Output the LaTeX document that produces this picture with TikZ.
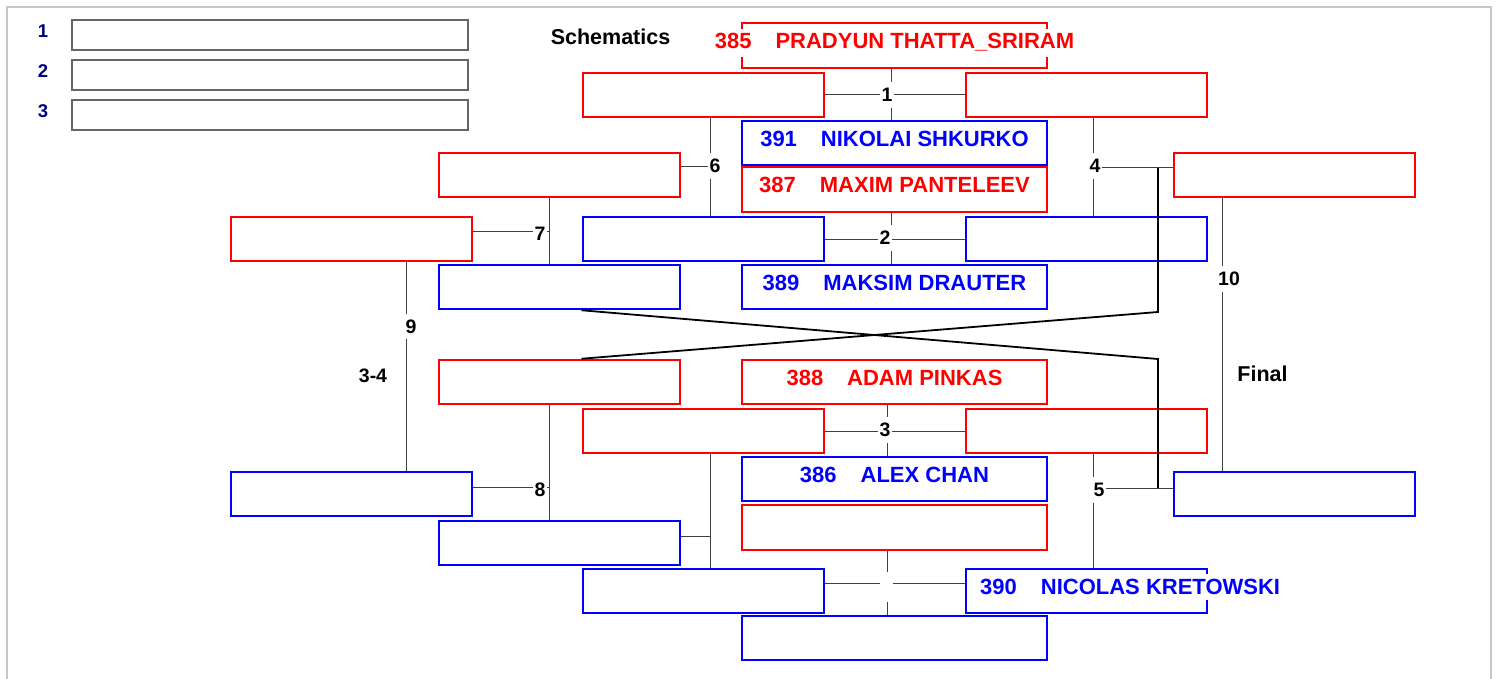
\documentclass[tikz,border=0pt]{standalone}
\usepackage{fontspec}
\setmainfont{Liberation Sans}
\usetikzlibrary{positioning}
\definecolor{boxred}{RGB}{255,0,0}
\definecolor{boxblue}{RGB}{0,0,255}
\definecolor{legendnavy}{RGB}{0,0,128}
\definecolor{framegrey}{RGB}{200,200,200}
\definecolor{legendgrey}{RGB}{102,102,102}
\tikzstyle{slot} = [rectangle, draw, line width=2pt, minimum width=241pt, minimum height=44.5pt, inner sep=0pt]
\tikzstyle{redslot} = [slot, draw=boxred]
\tikzstyle{blueslot} = [slot, draw=boxblue]
\tikzstyle{wideslot} = [minimum width=305pt]
\tikzstyle{legendslot} = [rectangle, draw=legendgrey, line width=2pt, minimum width=396pt, minimum height=30pt]
\tikzstyle{feed} = [line width=1pt, black!75]
\tikzstyle{xline} = [line width=1.8pt, black]
\tikzstyle{mnum} = [fill=white, inner xsep=2pt, inner ysep=6pt, font=\fontsize{19.5}{23}\selectfont\bfseries]
\tikzstyle{player} = [fill=white, inner xsep=2pt, inner ysep=5pt, anchor=base, font=\fontsize{22}{26}\selectfont\bfseries]
\tikzstyle{heading} = [font=\fontsize{21.5}{25}\selectfont\bfseries]
\newcommand{\entrant}[2]{#1\hspace{24pt}#2}

\begin{document}
\begin{tikzpicture}[x=1pt, y=-1pt]
    \useasboundingbox (0,0) rectangle (1499,679);
    \draw [framegrey, line width=2pt] (7,679) -- (7,7) -- (1491,7) -- (1491,679);

    % Standings
    \foreach \i/\y in {1/35, 2/75, 3/115} {
        \node (leg\i) [legendslot] at (270,\y) {};
        \node (legnum\i) [heading, text=legendnavy, font=\fontsize{18.5}{22}\selectfont\bfseries] at (43,{\y-4}) {\i};
    }
    \node (title) [heading] at (610.5,36.5) {Schematics};

    % Centre column
    \node (c1) [redslot, wideslot, minimum height=45pt] at (894.5,45.5) {};
    \node (c2) [blueslot, wideslot] at (894.5,143) {};
    \node (c3) [redslot, wideslot, below=0pt of c2] {};
    \node (c4) [blueslot, wideslot] at (894.5,287) {};
    \node (c5) [redslot, wideslot] at (894.5,382) {};
    \node (c6) [blueslot, wideslot] at (894.5,479) {};
    \node (c7) [redslot, wideslot, below=2pt of c6] {};
    \node (c8) [blueslot, wideslot] at (894.5,638) {};

    % Round 1 pairs
    \node (lm1) [redslot] at (703,95) {};
    \node (rm1) [redslot, right=140pt of lm1] {};
    \node (lm2) [blueslot] at (703,239) {};
    \node (rm2) [blueslot, right=140pt of lm2] {};
    \node (lm3) [redslot] at (703,431) {};
    \node (rm3) [redslot, right=140pt of lm3] {};
    \node (lm4) [blueslot] at (703,591) {};
    \node (rm4) [blueslot, right=140pt of lm4] {};

    % Outer columns
    \node (l1) [redslot] at (559,175) {};
    \node (l2) [blueslot] at (559,287) {};
    \node (l3) [redslot] at (559,382) {};
    \node (l4) [blueslot] at (559,543) {};
    \node (ll1) [redslot] at (351,239) {};
    \node (ll2) [blueslot] at (351,494) {};
    \node (r1) [redslot] at (1294,175) {};
    \node (r2) [blueslot] at (1294,494) {};

    % Joints
    \coordinate (j0) at (710,536);
    \coordinate (j4) at (1093,168);
    \coordinate (j5) at (1093,488);
    \coordinate (j6) at (710,167);
    \coordinate (j7) at (549,232);
    \coordinate (j8) at (549,487);
    \coordinate (j9) at (406,326);
    \coordinate (j10) at (1222,277);
    \coordinate (xa) at (1158,312);
    \coordinate (xb) at (1158,359);

    % Match lines
    \draw [feed] (lm1.east) -- (rm1.west);
    \draw [feed] ([xshift=-3.5pt]c1.south) -- ([xshift=-3.5pt]c2.north);
    \draw [feed] (lm2.east) -- (rm2.west);
    \draw [feed] ([xshift=-3.5pt]c3.south) -- ([xshift=-3.5pt]c4.north);
    \draw [feed] (lm3.east) -- (rm3.west);
    \draw [feed] ([xshift=-7.5pt]c5.south) -- ([xshift=-7.5pt]c6.north);
    \draw [feed] ([yshift=8pt]lm4.east) -- ([yshift=8pt]rm4.west);
    \draw [feed] ([xshift=-7.5pt]c7.south) -- ([xshift=-7.5pt]c8.north);

    \draw [feed] (lm1.south -| j6) -- (lm2.north -| j6);
    \draw [feed] (l1.east |- j6) -- (j6);
    \draw [feed] (lm3.south -| j0) -- (lm4.north -| j0);
    \draw [feed] (l4.east |- j0) -- (j0);
    \draw [feed] (l1.south -| j7) -- (l2.north -| j7);
    \draw [feed] (ll1.east |- j7) -- (j7);
    \draw [feed] (l3.south -| j8) -- (l4.north -| j8);
    \draw [feed] (ll2.east |- j8) -- (j8);
    \draw [feed] (ll1.south -| j9) -- (ll2.north -| j9);
    \draw [feed] (rm1.south -| j4) -- (rm2.north -| j4);
    \draw [feed] (j4) -- (r1.west |- j4);
    \draw [feed] (rm3.south -| j5) -- (rm4.north -| j5);
    \draw [feed] (j5) -- (r2.west |- j5);
    \draw [feed] (r1.south -| j10) -- (r2.north -| j10);

    % Crossing lines
    \draw [xline] (j4 -| xa) -- (xa) -- (l3.north -| lm3.west);
    \draw [xline] (l2.south -| lm2.west) -- (xb) -- (j5 -| xb);

    % Match numbers
    \node (n1) [mnum] at (887,95) {1};
    \node (n2) [mnum] at (885,238) {2};
    \node (n3) [mnum] at (885,430) {3};
    \node (n4) [mnum] at (1095,166) {4};
    \node (n5) [mnum] at (1099,490) {5};
    \node (n6) [mnum] at (715,166) {6};
    \node (n7) [mnum] at (540,234) {7};
    \node (n8) [mnum] at (540,490) {8};
    \node (n9) [mnum] at (411,326.5) {9};
    \node (n10) [mnum] at (1229,279) {10};
    \node (n0) [mnum, inner sep=0pt, minimum width=13pt, minimum height=30pt] at (886.5,587) {};
    \node (third) [heading, font=\fontsize{19.5}{23}\selectfont\bfseries] at (373,376) {3-4};
    \node (final) [heading] at (1262.5,373.5) {Final};

    % Players
    \node (p385) [player, text=boxred] at ([yshift=-3.5pt]c1.center) {\entrant{385}{PRADYUN THATTA\_SRIRAM}};
    \node (p391) [player, text=boxblue] at ([yshift=-3.5pt]c2.center) {\entrant{391}{NIKOLAI SHKURKO}};
    \node (p387) [player, text=boxred] at ([yshift=-3.5pt]c3.center) {\entrant{387}{MAXIM PANTELEEV}};
    \node (p389) [player, text=boxblue] at ([yshift=-3.5pt]c4.center) {\entrant{389}{MAKSIM DRAUTER}};
    \node (p388) [player, text=boxred] at ([yshift=-3.5pt]c5.center) {\entrant{388}{ADAM PINKAS}};
    \node (p386) [player, text=boxblue] at ([yshift=-3.5pt]c6.center) {\entrant{386}{ALEX CHAN}};
    \node (p390) [player, text=boxblue, anchor=base west] at (978,594.5) {\entrant{390}{NICOLAS KRETOWSKI}};

\end{tikzpicture}
\end{document}
